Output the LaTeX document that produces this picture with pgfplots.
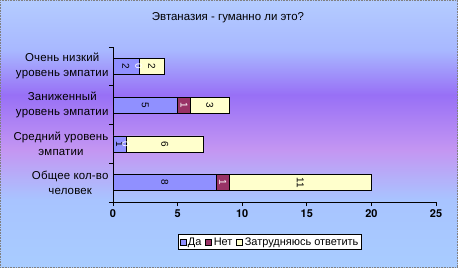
\documentclass[border=0pt]{standalone}
\usepackage{pgfplots}
\pgfplotsset{compat=1.18}
\usepackage{fontspec}
\setmainfont{Liberation Sans}
\newfontfamily\widefont[LetterSpace=1.5]{Liberation Sans}
\newfontfamily\myheros{TeX Gyre Heros}
\definecolor{cda}{HTML}{9090FF}
\definecolor{cnet}{HTML}{993366}
\definecolor{czat}{HTML}{FFFFCC}
\definecolor{bgA}{HTML}{B4CCFF}
\definecolor{bgB}{HTML}{A8B8FF}
\definecolor{bgC}{HTML}{9870F6}
\definecolor{bgD}{HTML}{C496F2}
\definecolor{bgE}{HTML}{A8C4FF}
\definecolor{bgF}{HTML}{A8CCFF}
\pgfdeclareverticalshading{bgsh}{100bp}{color(0bp)=(bgF); color(25bp)=(bgF); color(37.7bp)=(bgE); color(47bp)=(bgD); color(57.3bp)=(bgC); color(65.7bp)=(bgB); color(75bp)=(bgA); color(100bp)=(bgA)}
\pgfplotsset{sqlegend/.style={legend image code/.code={\draw[##1,draw=black] (-2bp,-3bp) rectangle (4bp,3bp);}}}
\pgfplotstableread{
x y l
4 0 8
0.5 1 1
2.5 2 5
1 3 2
14.5 0 11
4 1 6
7.5 2 3
3 3 2
}\darklabels
\pgfplotstableread{
x y l
8.5 0 1
1 1 0
5.5 2 1
2 3 0
}\whitelabels
\begin{document}
\begin{tikzpicture}
\useasboundingbox (0,0) rectangle (458bp,268bp);
\shade[shading=bgsh] (0,0) rectangle (458bp,268bp);
\draw[gray, densely dotted, line width=0.6bp] (0.5bp,0.5bp) rectangle (457.5bp,267.5bp);
\node[font=\fontsize{11.5}{13}\selectfont] at (228bp,250bp) {Эвтаназия - гуманно ли это?};
\begin{axis}[
  at={(113bp,66bp)}, anchor=south west,
  scale only axis, width=323bp, height=155bp,
  xbar stacked, bar width=16bp,
  xmin=0, xmax=25, ymin=-0.5, ymax=3.5,
  axis lines*=left,
  axis line style={black, line width=0.8pt},
  xtick={0,5,...,25},
  xticklabels={{\myheros\bfseries 0},{\myheros\bfseries 5},{\myheros\bfseries 10},{\myheros\bfseries 15},{\myheros\bfseries 20},{\myheros\bfseries 25}},
  tick align=outside, major tick length=4bp,
  tick style={black, line width=0.8pt},
  ytick={-0.5,0.5,1.5,2.5,3.5}, yticklabels={},
  extra y ticks={0,1,2,3},
  extra y tick labels={{Общее кол-во\\человек},{Средний уровень\\эмпатии},{Заниженный\\уровень эмпатии},{Очень низкий\\уровень эмпатии}},
  extra y tick style={major tick length=0pt, yticklabel style={align=center, font=\widefont\fontsize{11.5}{15}\selectfont, xshift=-1bp}},
  xticklabel style={font=\fontsize{11}{12}\selectfont},
  /pgf/number format/assume math mode=true,
  legend style={at={(0.486,-0.258)}, anchor=center, legend columns=-1, draw=black, fill=white,
    font=\fontsize{11}{12}\selectfont, inner sep=1bp,
    /tikz/every even column/.append style={column sep=2bp}},
  clip=false
]
\addplot[fill=cda, draw=black, sqlegend] coordinates {(8,0) (1,1) (5,2) (2,3)};
\addplot[fill=cnet, draw=black, sqlegend] coordinates {(1,0) (0,1) (1,2) (0,3)};
\addplot[fill=czat, draw=black, sqlegend] coordinates {(11,0) (6,1) (3,2) (2,3)};
\legend{Да, Нет, Затрудняюсь ответить}
\end{axis}
\begin{axis}[
  at={(113bp,66bp)}, anchor=south west,
  scale only axis, width=323bp, height=155bp,
  xmin=0, xmax=25, ymin=-0.5, ymax=3.5,
  hide axis, clip=false
]
\addplot[draw=none, mark=none, nodes near coords, point meta=explicit symbolic,
  nodes near coords style={rotate=-90, anchor=center, font=\fontsize{10}{11}\selectfont, text=black, inner sep=0pt}]
  table[x=x, y=y, meta=l] {\darklabels};
\addplot[draw=none, mark=none, nodes near coords, point meta=explicit symbolic,
  nodes near coords style={rotate=-90, anchor=center, font=\fontsize{10}{11}\selectfont, text=white, inner sep=0pt}]
  table[x=x, y=y, meta=l] {\whitelabels};
\end{axis}
\end{tikzpicture}
\end{document}
